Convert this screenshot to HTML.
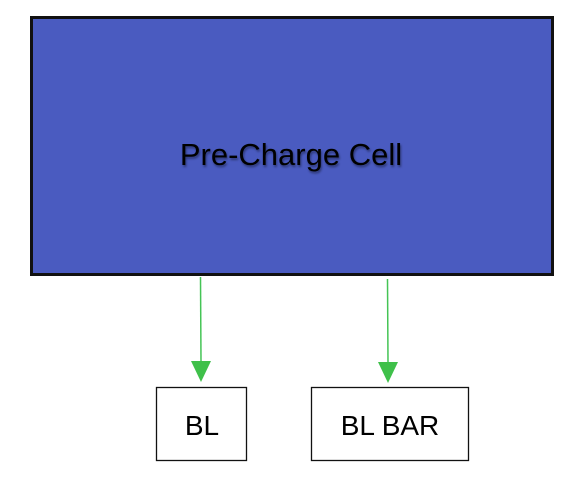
<!DOCTYPE html>
<html><head><style>
html,body{margin:0;padding:0;background:#fff;width:587px;height:499px;overflow:hidden}
</style></head><body>
<svg width="587" height="499" xmlns="http://www.w3.org/2000/svg" style="position:absolute;left:0;top:0">
<rect x="31.5" y="17.5" width="521" height="257" fill="#4a5bc0" stroke="#111" stroke-width="3"/>
<text x="291" y="165" font-family="Liberation Sans, sans-serif" font-size="31" text-anchor="middle" fill="#000" style="text-shadow:1px 2px 2px rgba(0,0,0,0.4)">Pre-Charge Cell</text>
<line x1="200.5" y1="277" x2="201" y2="362" stroke="#44c455" stroke-width="1.5"/>
<polygon points="191,361 211,361 201,382" fill="#3fc04a"/>
<line x1="387.5" y1="279" x2="388" y2="363" stroke="#44c455" stroke-width="1.5"/>
<polygon points="378,362 398,362 388,383" fill="#3fc04a"/>
<rect x="156.5" y="387.5" width="90" height="73" fill="#fff" stroke="#111" stroke-width="1.3"/>
<text x="202" y="435" font-family="Liberation Sans, sans-serif" font-size="28" text-anchor="middle" fill="#000">BL</text>
<rect x="311.5" y="387.5" width="157" height="73" fill="#fff" stroke="#111" stroke-width="1.3"/>
<text x="390" y="435" font-family="Liberation Sans, sans-serif" font-size="28" text-anchor="middle" fill="#000">BL BAR</text>
</svg>
</body></html>
